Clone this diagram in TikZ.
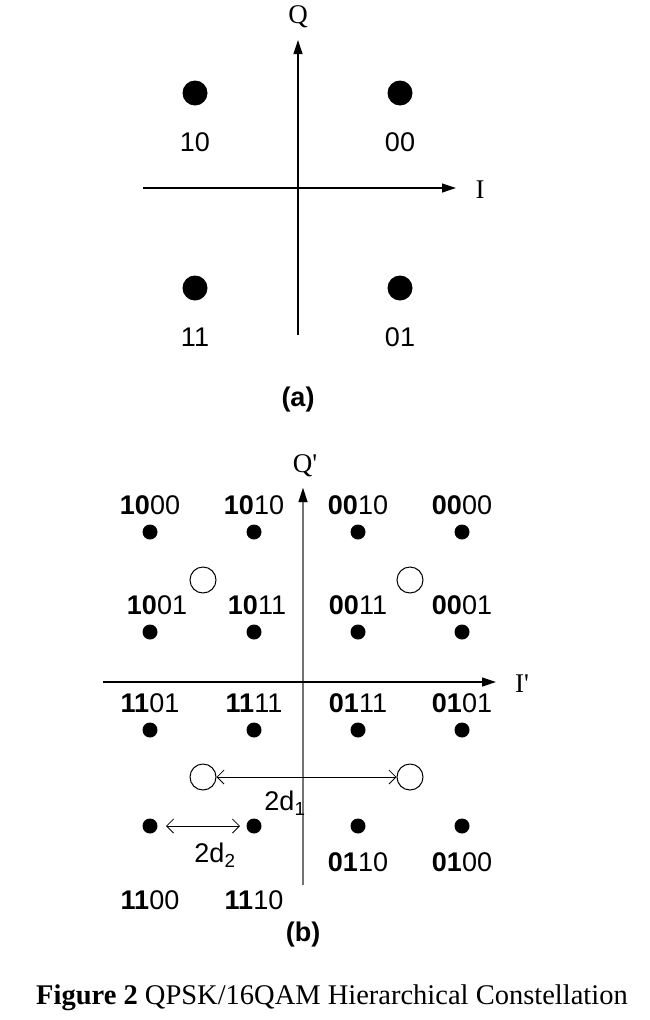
\documentclass[tikz,border=0pt]{standalone}
\usepackage{fontspec}
\setmainfont{Liberation Sans}
\newfontfamily\capfont{Liberation Serif}
\usetikzlibrary{arrows.meta}
\begin{document}
\begin{tikzpicture}[x=1pt,y=-1pt,
  ax/.style={line width=1.2pt,-{Triangle[length=14pt,width=9pt]}},
  bigdot/.style={circle,fill=black,inner sep=0pt,minimum size=25pt},
  smdot/.style={circle,fill=black,inner sep=0pt,minimum size=15pt},
  odot/.style={circle,draw=black,line width=1pt,fill=white,inner sep=0pt,minimum size=26pt},
  lab/.style={font=\fontsize{27}{29}\selectfont,inner sep=0pt},
  dim/.style={line width=0.8pt,{Straight Barb[length=7pt]}-{Straight Barb[length=7pt]}}]
\useasboundingbox (0,0) rectangle (650,1020);
% (a)
\coordinate (qa0) at (298,335); \coordinate (qa1) at (298,40);
\coordinate (ia0) at (143,188); \coordinate (ia1) at (456,188);
\draw[ax] (qa0) -- (qa1);
\draw[ax] (ia0) -- (ia1);
\node[lab,font=\capfont\fontsize{27}{29}\selectfont] (Q) at (298,17) {Q};
\node[lab,font=\capfont\fontsize{27}{29}\selectfont] (I) at (480,190) {I};
\node[bigdot] (a10) at (195,93) {}; \node[bigdot] (a00) at (400,93) {};
\node[bigdot] (a11) at (195,288) {}; \node[bigdot] (a01) at (400,288) {};
\node[lab] at (195,142) {10}; \node[lab] at (400,142) {00};
\node[lab] at (195,337) {11}; \node[lab] at (400,337) {01};
\node[lab,font=\bfseries\fontsize{27}{29}\selectfont] at (298,400) {(a)};
% (b)
\coordinate (qb0) at (303,885); \coordinate (qb1) at (303,488);
\coordinate (ib0) at (103,682); \coordinate (ib1) at (496,682);
\draw[ax,draw=black!55] (qb0) -- (qb1);
\draw[ax] (ib0) -- (ib1);
\fill (qb1) -- ++(-4.5,14) -- ++(9,0) -- cycle;
\node[lab,font=\capfont\fontsize{27}{29}\selectfont] (Qp) at (305,466) {Q'};
\node[lab,font=\capfont\fontsize{27}{29}\selectfont] (Ip) at (522,684) {I'};
\foreach \x in {150,254,358,462}
  \foreach \y in {532,632,730,826}
    \node[smdot] at (\x,\y) {};
\node[lab] at (150,505) {\textbf{10}00}; \node[lab] at (254,505) {\textbf{10}10};
\node[lab] at (358,505) {\textbf{00}10}; \node[lab] at (462,505) {\textbf{00}00};
\node[lab] at (157,605) {\textbf{10}01}; \node[lab] at (257,605) {\textbf{10}11};
\node[lab] at (358,605) {\textbf{00}11}; \node[lab] at (462,605) {\textbf{00}01};
\node[lab] at (150,703) {\textbf{11}01}; \node[lab] at (254,703) {\textbf{11}11};
\node[lab] at (358,703) {\textbf{01}11}; \node[lab] at (462,703) {\textbf{01}01};
\node[lab] at (358,862) {\textbf{01}10}; \node[lab] at (462,862) {\textbf{01}00};
\node[lab] at (150,900) {\textbf{11}00}; \node[lab] at (254,900) {\textbf{11}10};
\node[odot] (o1) at (203,580) {}; \node[odot] (o2) at (410,580) {};
\node[odot] (o3) at (203,777) {}; \node[odot] (o4) at (410,777) {};
\draw[dim] (o3) -- (o4);
\node[lab] at (285,803) {2d\textsubscript{1}};
\coordinate (d2a) at (166,826); \coordinate (d2b) at (240,826);
\draw[dim] (d2a) -- (d2b);
\node[lab] at (215,855) {2d\textsubscript{2}};
\node[lab,font=\bfseries\fontsize{27}{29}\selectfont] at (303,935) {(b)};
\node[lab,font=\capfont\fontsize{28.5}{30}\selectfont] at (332,998) {\textbf{Figure 2} QPSK/16QAM Hierarchical Constellation};
\end{tikzpicture}
\end{document}
